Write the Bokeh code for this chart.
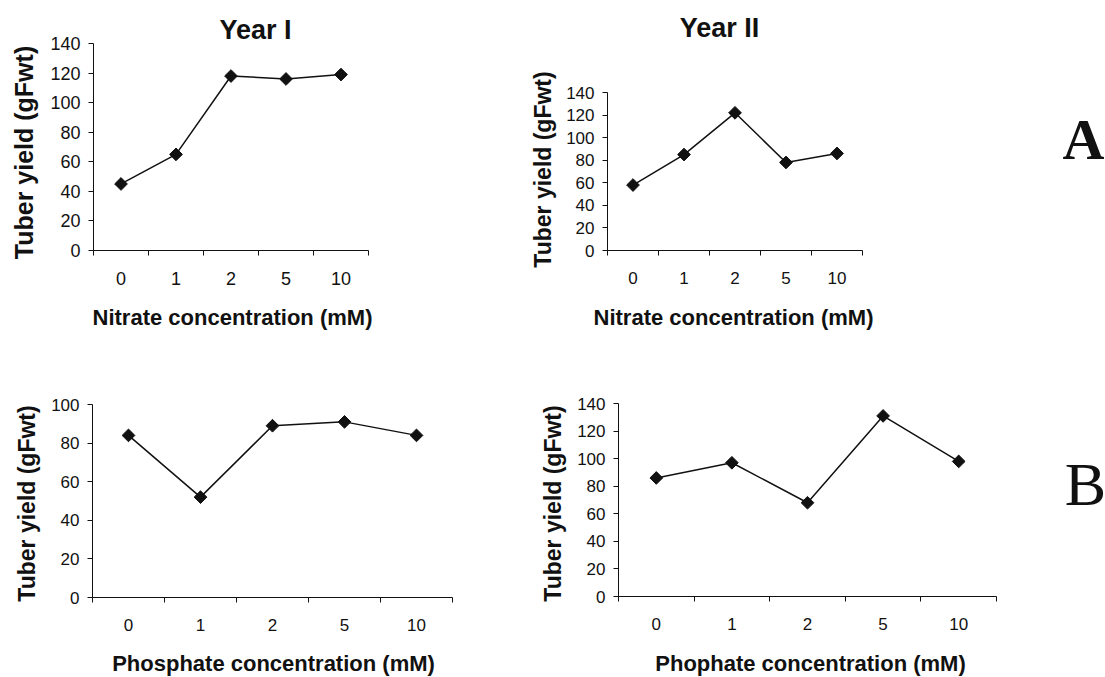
import math
from bokeh.plotting import figure
from bokeh.layouts import column, row
from bokeh.models import Range1d, FixedTicker, Label
from bokeh.embed import file_html
from bokeh.resources import INLINE

# ---- data ----
categories = ["0", "1", "2", "5", "10"]
nitrate_year1 = [45, 65, 118, 116, 119]
nitrate_year2 = [58, 85, 122, 78, 86]
phosphate_year1 = [84, 52, 89, 91, 84]
phosphate_year2 = [86, 97, 68, 131, 98]

yticks_140 = [0, 20, 40, 60, 80, 100, 120, 140]
yticks_100 = [0, 20, 40, 60, 80, 100]

ylabel = "Tuber yield (gFwt)"
FONT = "Liberation Sans"
INK = "#111111"


def panel(values, ymax, yticks, W, H, ox, oy, axis_w, axis_h, tick_size="17px"):
    """W,H: figure size; (ox, oy): pixel position of the axes origin
    (from the figure's top-left); axis_w/axis_h: drawn axis lengths in px."""
    n = len(categories)
    xs = [i + 0.5 for i in range(n)]
    xr = Range1d(-ox / axis_w * n, (W - ox) / axis_w * n)
    yr = Range1d(-(H - oy) / axis_h * ymax, oy / axis_h * ymax)
    p = figure(width=W, height=H, output_backend="svg", toolbar_location=None,
               x_range=xr, y_range=yr, min_border=0)
    p.outline_line_color = None
    p.grid.visible = False
    p.background_fill_color = "white"
    p.border_fill_color = "white"

    p.line(xs, values, line_color=INK, line_width=1.5)
    p.scatter(xs, values, marker="square", angle=math.pi / 4, size=9,
              fill_color=INK, line_color=INK)

    xa = p.xaxis[0]
    xa.fixed_location = 0
    xa.bounds = (0, n)
    xa.ticker = FixedTicker(ticks=xs, minor_ticks=list(range(n + 1)))
    xa.major_label_overrides = {x: c for x, c in zip(xs, categories)}
    xa.major_tick_line_color = None
    xa.major_tick_out = 0
    xa.major_tick_in = 0
    xa.minor_tick_line_color = INK
    xa.minor_tick_out = 5
    xa.minor_tick_in = 0
    xa.major_label_standoff = 16

    ya = p.yaxis[0]
    ya.fixed_location = 0
    ya.bounds = (0, ymax)
    ya.ticker = FixedTicker(ticks=yticks)
    ya.minor_tick_line_color = None
    ya.major_tick_out = 5
    ya.major_tick_in = 0
    ya.major_tick_line_color = INK
    ya.major_label_standoff = 8

    for ax in (xa, ya):
        ax.axis_line_color = INK
        ax.axis_line_width = 1
        ax.major_label_text_font = FONT
        ax.major_label_text_font_size = tick_size
        ax.major_label_text_color = INK
    return p


SHIFT = 0.4  # empirical baseline correction, in em


def label(p, text, x, y_top, size, font=FONT, style="bold", vertical=False):
    """x, y_top: pixel position of the text baseline from the figure's top-left."""
    px = float(size.replace("px", ""))
    if vertical:
        x = x - SHIFT * px
    else:
        y_top = y_top - SHIFT * px
    p.add_layout(Label(x=x, y=p.height - y_top, x_units="screen", y_units="screen",
                       text=text, angle=(math.pi / 2 if vertical else 0.0),
                       text_align="center", text_baseline="alphabetic",
                       text_font=font, text_font_style=style,
                       text_font_size=size, text_color=INK))


# Top row (Nitrate)
p1 = panel(nitrate_year1, 140, yticks_140, 520, 338, 93, 250, 275, 207,
           tick_size="18px")
label(p1, "Year I", 255, 40, "27px")
label(p1, ylabel, 33, 152, "25px", vertical=True)
label(p1, "Nitrate concentration (mM)", 232, 326, "22px")

p2 = panel(nitrate_year2, 140, yticks_140, 585, 338, 87, 250, 255, 158)
label(p2, "Year II", 199, 38, "27px")
label(p2, ylabel, 32, 169, "23px", vertical=True)
label(p2, "Nitrate concentration (mM)", 213, 326, "22px")
label(p2, "A", 563, 162, "58px", font="Liberation Serif", style="bold")

# Bottom row (Phosphate)
p3 = panel(phosphate_year1, 100, yticks_100, 533, 339, 92, 259, 360, 193)
label(p3, ylabel, 36, 165, "23px", vertical=True)
label(p3, "Phosphate concentration (mM)", 273, 334, "22px")

p4 = panel(phosphate_year2, 140, yticks_140, 572, 339, 85, 258, 378, 193)
label(p4, ylabel, 29, 165, "23px", vertical=True)
label(p4, "Phophate concentration (mM)", 277, 334, "22px")
label(p4, "B", 552, 170, "62px", font="Liberation Serif", style="normal")

layout = column(row(p1, p2), row(p3, p4))
open("out.html", "w").write(file_html(layout, INLINE))
